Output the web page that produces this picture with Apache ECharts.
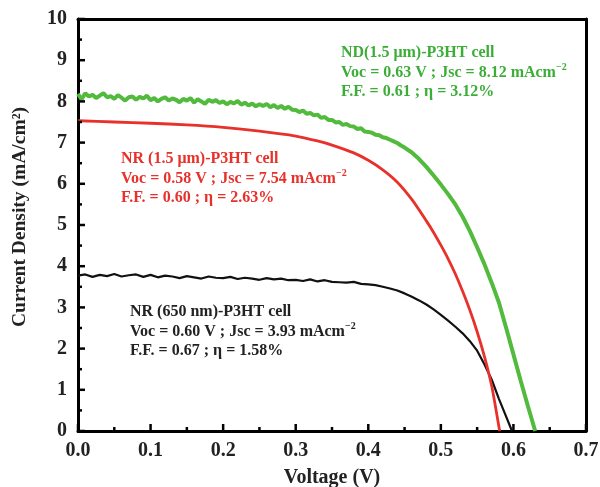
<!DOCTYPE html>
<html><head><meta charset="utf-8">
<script src="https://cdn.jsdelivr.net/npm/echarts@6/dist/echarts.min.js"></script>
<style>html,body{margin:0;padding:0;background:#fff}#c{width:600px;height:487px}</style>
</head><body><div id="c"></div>
<script>
const xTicks = [0, 0.1, 0.2, 0.3, 0.4, 0.5, 0.6, 0.7];
const xMinorTicks = [0.05, 0.15, 0.25, 0.35, 0.45, 0.55, 0.65];
const yTicks = [0, 1, 2, 3, 4, 5, 6, 7, 8, 9, 10];
const yMinorTicks = [0.5, 1.5, 2.5, 3.5, 4.5, 5.5, 6.5, 7.5, 8.5, 9.5];

// ND(1.5 um)-P3HT cell (green) — voltage (V), current density (mA/cm2)
const ndV = [0,0.005,0.01,0.015,0.02,0.025,0.03,0.035,0.04,0.045,0.05,0.055,0.06,0.065,0.07,0.075,0.08,0.085,0.09,0.095,0.1,0.105,0.11,0.115,0.12,0.125,0.13,0.135,0.14,0.145,0.15,0.155,0.16,0.165,0.17,0.175,0.18,0.185,0.19,0.195,0.2,0.205,0.21,0.215,0.22,0.225,0.23,0.235,0.24,0.245,0.25,0.255,0.26,0.265,0.27,0.275,0.28,0.285,0.29,0.295,0.3,0.305,0.31,0.315,0.32,0.325,0.33,0.335,0.34,0.345,0.35,0.355,0.36,0.365,0.37,0.375,0.38,0.385,0.39,0.395,0.4,0.405,0.41,0.415,0.42,0.425,0.43,0.435,0.44,0.445,0.45,0.46,0.47,0.48,0.49,0.5,0.51,0.52,0.53,0.54,0.55,0.56,0.57,0.58,0.59,0.6,0.61,0.62,0.63];
const ndJ = [8.18,8.05,8.2,8.12,8.16,8.08,8.14,8.2,8.1,8.13,8.06,8.15,8.09,8.02,8.1,8.12,8.04,8.11,8.07,8.14,8.03,8.08,8.0,8.06,8.1,8.02,8.07,8.04,7.98,8.06,8.02,8.08,7.97,8.05,8.0,7.94,8.04,7.99,8.03,7.96,8.0,7.93,7.99,7.95,8.01,7.92,7.97,7.9,7.95,7.88,7.93,7.89,7.94,7.86,7.91,7.84,7.89,7.82,7.87,7.8,7.79,7.74,7.78,7.7,7.72,7.66,7.68,7.6,7.62,7.55,7.55,7.49,7.5,7.43,7.45,7.4,7.39,7.33,7.35,7.27,7.26,7.24,7.19,7.18,7.13,7.11,7.07,7.03,6.99,6.93,6.88,6.76,6.6,6.41,6.2,5.98,5.75,5.5,5.2,4.85,4.46,4.05,3.6,3.12,2.5,1.86,1.22,0.6,0];

// NR(1.5 um)-P3HT cell (red)
const nrV = [0,0.05,0.1,0.15,0.2,0.25,0.3,0.33,0.35,0.38,0.4,0.42,0.44,0.46,0.48,0.49,0.5,0.51,0.52,0.53,0.54,0.55,0.56,0.57,0.575,0.581];
const nrJ = [7.53,7.5,7.47,7.43,7.37,7.28,7.16,7.04,6.94,6.75,6.57,6.34,6.04,5.62,5.1,4.82,4.51,4.18,3.81,3.39,2.93,2.41,1.81,1.1,0.62,0];

// NR(650 nm)-P3HT cell (black)
const nsV = [0,0.01,0.02,0.03,0.04,0.05,0.06,0.07,0.08,0.09,0.1,0.11,0.12,0.13,0.14,0.15,0.16,0.17,0.18,0.19,0.2,0.21,0.22,0.23,0.24,0.25,0.26,0.27,0.28,0.29,0.3,0.31,0.32,0.33,0.34,0.35,0.36,0.37,0.38,0.39,0.4,0.41,0.42,0.43,0.44,0.45,0.46,0.47,0.48,0.49,0.5,0.51,0.52,0.53,0.54,0.55,0.56,0.57,0.58,0.59,0.598];
const nsJ = [3.77,3.8,3.74,3.79,3.76,3.81,3.75,3.78,3.8,3.74,3.79,3.73,3.77,3.75,3.71,3.76,3.73,3.7,3.75,3.72,3.71,3.74,3.69,3.72,3.7,3.67,3.71,3.68,3.7,3.66,3.67,3.64,3.68,3.63,3.66,3.62,3.61,3.6,3.62,3.57,3.56,3.54,3.5,3.46,3.41,3.34,3.26,3.17,3.07,2.95,2.82,2.68,2.53,2.37,2.18,1.95,1.62,1.25,0.78,0.35,0];

const zip = (a, b) => a.map((v, i) => [v, b[i]]);
const serif = 'Liberation Serif';

const chart = echarts.init(document.getElementById('c'));
const line = { show: true, onZero: false, lineStyle: { color: '#000', width: 3 } };
const lab = { color: '#222', fontFamily: serif, fontWeight: 'bold', fontSize: 20 };
const off = { show: false };

// tick marks drawn through the axes' own scales (api.coord)
function tickSeries(vals, isX, len) {
  return {
    type: 'custom', silent: true, clip: false, z: 6,
    data: vals.map(v => isX ? [v, yTicks[0]] : [xTicks[0], v]),
    renderItem: (params, api) => {
      const p = api.coord([api.value(0), api.value(1)]);
      const shape = isX ? { x1: p[0], y1: p[1], x2: p[0], y2: p[1] - len }
                        : { x1: p[0], y1: p[1], x2: p[0] + len, y2: p[1] };
      return { type: 'line', shape: shape, style: { stroke: '#000', lineWidth: 2.5 } };
    }
  };
}

chart.setOption({
  animation: false,
  grid: { left: 78, right: 14, top: 19, bottom: 56, outerBoundsMode: 'none', containLabel: false },
  xAxis: [{
    type: 'value', position: 'bottom', min: xTicks[0], max: xTicks[xTicks.length - 1], interval: 0.1,
    axisLine: line, axisTick: off, splitLine: off,
    name: 'Voltage (V)', nameLocation: 'middle', nameGap: 37,
    nameTextStyle: { color: '#222', fontFamily: serif, fontWeight: 'bold', fontSize: 20 },
    axisLabel: Object.assign({}, lab, { margin: 10, formatter: v => v.toFixed(1) })
  }, {
    type: 'value', position: 'top', min: 0, max: 0.7, interval: 0.1,
    axisLine: line, axisTick: off, axisLabel: off, splitLine: off
  }],
  yAxis: [{
    type: 'value', position: 'left', min: yTicks[0], max: yTicks[yTicks.length - 1], interval: 1,
    axisLine: line, axisTick: off, splitLine: off,
    name: 'Current Density (mA/cm²)', nameLocation: 'middle', nameGap: 48, nameRotate: 90,
    nameTextStyle: { color: '#222', fontFamily: serif, fontWeight: 'bold', fontSize: 19.5, padding: [0, 0, 0, 16] },
    axisLabel: Object.assign({}, lab, { margin: 11 })
  }, {
    type: 'value', position: 'right', min: 0, max: 10, interval: 1,
    axisLine: line, axisTick: off, axisLabel: off, splitLine: off
  }],
  series: [
    { type: 'line', data: zip(nsV, nsJ), showSymbol: false, lineStyle: { color: '#111', width: 2.2 }, z: 3 },
    { type: 'line', data: zip(nrV, nrJ), showSymbol: false, smooth: 0.2, lineStyle: { color: '#e8312a', width: 2.8 }, z: 4 },
    { type: 'line', data: zip(ndV, ndJ), showSymbol: false, lineStyle: { color: '#52ba3c', width: 4 }, z: 5 },
    tickSeries(xTicks, true, 7),
    tickSeries(xMinorTicks, true, 4),
    tickSeries(yTicks, false, 7),
    tickSeries(yMinorTicks, false, 4)
  ],
  graphic: [
    mkText(341, 45, '#3cae38', 'ND(1.5 μm)-P3HT cell', 'Voc = 0.63 V ; Jsc = 8.12 mAcm', 'F.F. = 0.61 ; η = 3.12%'),
    mkText(121, 151, '#e8312a', 'NR (1.5 μm)-P3HT cell', 'Voc = 0.58 V ; Jsc = 7.54 mAcm', 'F.F. = 0.60 ; η = 2.63%'),
    mkText(130, 304, '#222', 'NR (650 nm)-P3HT cell', 'Voc = 0.60 V ; Jsc = 3.93 mAcm', 'F.F. = 0.67 ; η = 1.58%')
  ]
});
function mkText(x, y, color, l1, l2, l3) {
  return {
    type: 'text', left: x, top: y, z: 10,
    style: {
      text: '{a|' + l1 + '}\n{a|' + l2 + '}{s|−2}\n{a|' + l3 + '}',
      fill: color,
      rich: {
        a: { fontFamily: serif, fontWeight: 'bold', fontSize: 16, lineHeight: 19.5, fill: color },
        s: { fontFamily: serif, fontWeight: 'bold', fontSize: 10, lineHeight: 19.5, verticalAlign: 'top', fill: color }
      }
    }
  };
}
</script></body></html>
